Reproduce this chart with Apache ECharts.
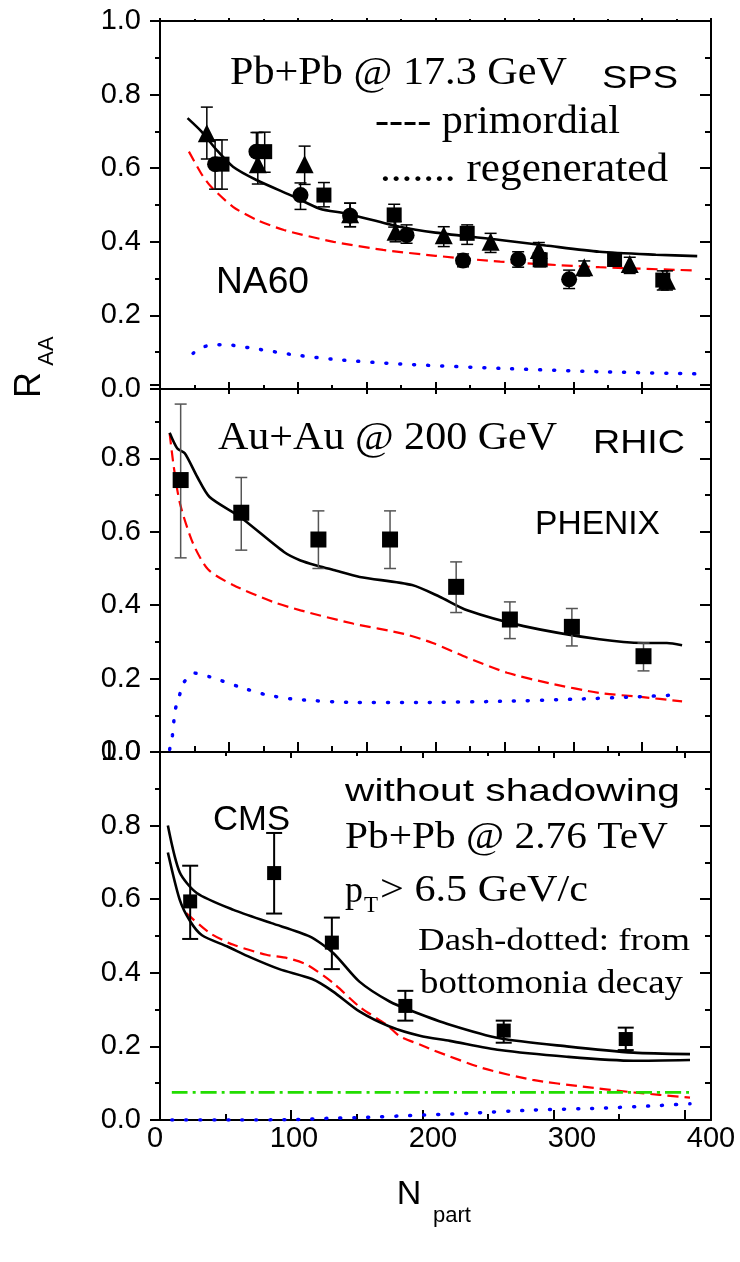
<!DOCTYPE html>
<html>
<head>
<meta charset="utf-8">
<script src="https://cdn.jsdelivr.net/npm/echarts@6/dist/echarts.min.js"></script>
<style>
  html, body { margin: 0; padding: 0; background: #fff; }
  #chart { width: 740px; height: 1262px; }
</style>
</head>
<body>
<div id="chart"></div>
<script>
// ---- panel 1: SPS, Pb+Pb @ 17.3 GeV ----
const spsTotal = [[20,0.736],[30,0.70],[41,0.65],[53,0.604],[70,0.568],[97,0.523],[116,0.49],[135,0.477],[174,0.441],[200,0.425],[247,0.405],[280,0.39],[319,0.373],[360,0.365],[390,0.361]];
const spsPrim = [[21,0.645],[30,0.585],[37,0.55],[53,0.495],[70,0.46],[90,0.432],[126,0.40],[162,0.378],[200,0.362],[247,0.346],[319,0.331],[390,0.322]];
const spsRegen = [[24,0.097],[30,0.112],[38,0.12],[48,0.12],[68,0.11],[99,0.092],[131,0.079],[174,0.068],[247,0.056],[319,0.047],[390,0.041]];
// NA60 points: [Npart, R, low, high]
const na60Tri = [[34,0.695,0.625,0.766],[71,0.611,0.557,0.697],[105,0.611,0.556,0.66],[138,0.475,0.441,0.505],[171,0.427,0.40,0.455],[206,0.418,0.387,0.441],[240,0.40,0.371,0.423],[275,0.378,0.35,0.398],[308,0.331,0.307,0.348],[341,0.34,0.314,0.358],[368,0.294,0.269,0.321]];
const na60Circ = [[40,0.611,0.543,0.677],[70,0.645,0.59,0.697],[102,0.527,0.488,0.56],[138,0.471,0.441,0.505],[179,0.418,0.396,0.446],[220,0.349,0.332,0.367],[260,0.352,0.331,0.373],[297,0.298,0.273,0.323]];
const na60Sq = [[45,0.611,0.543,0.677],[76,0.645,0.589,0.698],[119,0.527,0.495,0.561],[170,0.473,0.44,0.502],[223,0.423,0.393,0.446],[276,0.351,0.332,0.37],[330,0.352,0.334,0.367],[365,0.296,0.269,0.321]];

// ---- panel 2: RHIC, Au+Au @ 200 GeV ----
const rhicTotal = [[7,0.87],[12.6,0.827],[18,0.814],[27,0.75],[36,0.695],[58,0.641],[90,0.545],[102,0.522],[115,0.507],[126,0.496],[145,0.477],[183,0.455],[203,0.423],[223,0.386],[264,0.343],[319,0.307],[351,0.297],[368,0.297],[379,0.291]];
const rhicPrim = [[7,0.868],[10,0.777],[14.5,0.677],[24,0.568],[35,0.497],[53,0.455],[82,0.409],[102,0.386],[140,0.35],[177,0.322],[198,0.297],[223,0.257],[252,0.216],[283,0.187],[319,0.161],[349,0.15],[379,0.138]];
const rhicRegen = [[7,0.007],[9,0.045],[11,0.114],[14,0.152],[17,0.188],[25,0.215],[36,0.205],[58,0.177],[78,0.155],[100,0.143],[143,0.135],[186,0.135],[247,0.138],[302,0.144],[344,0.15],[378,0.156]];
const phenix = [[15,0.741,0.529,0.948],[59,0.652,0.55,0.748],[115,0.579,0.50,0.657],[167,0.579,0.50,0.657],[215,0.45,0.38,0.518],[254,0.361,0.309,0.409],[299,0.341,0.289,0.391],[351,0.261,0.221,0.297]];

// ---- panel 3: LHC, Pb+Pb @ 2.76 TeV ----
const cmsUpper = [[6,0.80],[15,0.673],[28,0.617],[56,0.571],[85,0.535],[114,0.499],[132,0.454],[152,0.376],[175,0.322],[193,0.295],[221,0.259],[259,0.222],[310,0.20],[361,0.183],[404,0.179]];
const cmsLower = [[6,0.727],[15,0.599],[23,0.54],[32,0.502],[51,0.472],[69,0.442],[91,0.41],[116,0.383],[132,0.349],[152,0.295],[175,0.254],[198,0.229],[221,0.215],[259,0.19],[310,0.172],[361,0.161],[404,0.163]];
const cmsPrim = [[20,0.562],[38,0.508],[56,0.476],[81,0.449],[97,0.44],[112,0.422],[132,0.372],[152,0.308],[173,0.258],[183,0.227],[198,0.205],[208,0.19],[246,0.141],[284,0.109],[322,0.091],[361,0.075],[404,0.061]];
const cmsRegen = [[9,0],[60,0],[100,0.001],[132,0.005],[157,0.007],[190,0.012],[234,0.018],[284,0.027],[335,0.032],[373,0.038],[404,0.044]];
const cmsBottomonia = [[9,0.075],[404,0.075]];
const cms = [[23,0.594,0.492,0.691],[87,0.671,0.561,0.78],[131,0.482,0.41,0.55],[187,0.31,0.27,0.351],[262,0.243,0.21,0.27],[355,0.22,0.19,0.251]];

const xTicks = [0, 100, 200, 300, 400];

const SANS = '"Liberation Sans", Arial, sans-serif';
const SERIF = '"Liberation Serif", "Times New Roman", serif';
const black = { color: '#000', width: 2 };

const chart = echarts.init(document.getElementById('chart'));

// fit a text between x1 and x2 (the source figure is stretched sideways)
const ctx = document.createElement('canvas').getContext('2d');
function fit(text, x1, x2, cy, size, family) {
  const font = size + 'px ' + family;
  ctx.font = font;
  const w = ctx.measureText(text).width;
  return {
    type: 'text', x: x1, y: cy, scaleX: (x2 - x1) / w, z: 10,
    style: { text, font, fill: '#000', textAlign: 'left', textVerticalAlign: 'middle', verticalAlign: 'middle' }
  };
}
function txt(text, x, y, size, family, rot) {
  return {
    type: 'text', x, y, rotation: rot || 0, z: 10,
    style: { text, font: size + 'px ' + family, fill: '#000', textAlign: 'center', textVerticalAlign: 'middle', verticalAlign: 'middle' }
  };
}

function xPair(g, max, interval, botLen, topLen, topOut, topLine) {
  return [
    { type: 'value', gridIndex: g, position: 'bottom', min: 0, max, interval,
      axisLine: { show: true, onZero: false, lineStyle: black },
      axisTick: { show: true, inside: true, length: botLen, lineStyle: black },
      minorTick: { show: true, splitNumber: 2, length: Math.round(botLen * 0.6), lineStyle: black },
      axisLabel: { show: false }, splitLine: { show: false }, minorSplitLine: { show: false } },
    { type: 'value', gridIndex: g, position: 'top', min: 0, max, interval,
      axisLine: { show: topLine, onZero: false, lineStyle: black },
      axisTick: { show: topLen > 0, inside: !topOut, length: topLen, lineStyle: black },
      minorTick: { show: topLen > 0, splitNumber: 2, length: Math.max(2, Math.round(topLen * 0.6)), lineStyle: black },
      axisLabel: { show: false }, splitLine: { show: false }, minorSplitLine: { show: false } }
  ];
}
function yPair(g, showMin, showMax) {
  return [
    { type: 'value', gridIndex: g, position: 'left', min: 0, max: 1, interval: 0.2,
      axisLine: { show: true, onZero: false, lineStyle: black },
      axisTick: { show: true, inside: false, length: 10, lineStyle: black },
      minorTick: { show: true, splitNumber: 2, length: 5, lineStyle: black },
      axisLabel: { show: true, fontSize: 29, fontFamily: SANS, color: '#000', margin: 19,
        showMinLabel: showMin, showMaxLabel: showMax, formatter: v => v.toFixed(1) },
      splitLine: { show: false } },
    { type: 'value', gridIndex: g, position: 'right', min: 0, max: 1, interval: 0.2,
      axisLine: { show: true, onZero: false, lineStyle: black },
      axisTick: { show: true, inside: true, length: 11, lineStyle: black },
      minorTick: { show: true, splitNumber: 2, length: 6, lineStyle: black },
      axisLabel: { show: false }, splitLine: { show: false } }
  ];
}

const styles = {
  total: { color: '#000', width: 2.6, type: 'solid' },
  prim: { color: '#ff0000', width: 2.2, type: [11, 6] },
  regen: { color: '#0000ff', width: 3.5, type: [1, 13], cap: 'round' },
  bott: { color: '#22dd00', width: 2.6, type: [16, 5, 3, 5] }
};
function curve(p, data, kind) {
  return { type: 'line', xAxisIndex: 2 * p, yAxisIndex: 2 * p, data, symbol: 'none',
    smooth: 0.25, lineStyle: styles[kind], z: 3, silent: true };
}
function marks(p, pts, symbol, size) {
  return { type: 'scatter', xAxisIndex: 2 * p, yAxisIndex: 2 * p, data: pts.map(d => [d[0], d[1]]),
    symbol, symbolSize: size, itemStyle: { color: '#000', opacity: 1 }, z: 6, silent: true };
}
function errs(p, pts, color, w, cap) {
  return {
    type: 'custom', xAxisIndex: 2 * p, yAxisIndex: 2 * p, z: 5, silent: true,
    data: pts.map(d => [d[0], d[2], d[3]]),
    renderItem: (params, api) => {
      const hi = api.coord([api.value(0), api.value(2)]);
      const lo = api.coord([api.value(0), api.value(1)]);
      const st = { stroke: color, lineWidth: w };
      return { type: 'group', children: [
        { type: 'line', shape: { x1: hi[0], y1: hi[1], x2: lo[0], y2: lo[1] }, style: st },
        { type: 'line', shape: { x1: hi[0] - cap, y1: hi[1], x2: hi[0] + cap, y2: hi[1] }, style: st },
        { type: 'line', shape: { x1: lo[0] - cap, y1: lo[1], x2: lo[0] + cap, y2: lo[1] }, style: st }
      ] };
    }
  };
}

const option = {
  animation: false,
  backgroundColor: '#fff',
  grid: [
    { left: 160, top: 21, width: 551, height: 368 },
    { left: 160, top: 385, width: 551, height: 367 },
    { left: 160, top: 752, width: 551, height: 368 },
    { left: 155, top: 1119, width: 556, height: 1 }
  ],
  xAxis: [
    ...xPair(0, 400, 50, 7, 3, true, true),
    ...xPair(1, 400, 50, 10, 9, false, false),
    ...xPair(2, 420, 100, 10, 6, false, true),
    { type: 'value', gridIndex: 3, min: 0, max: 400, interval: 100,
      axisLine: { show: false }, axisTick: { show: false }, splitLine: { show: false },
      axisLabel: { show: true, fontSize: 29, fontFamily: SANS, color: '#000', margin: 4,
        formatter: v => xTicks.includes(v) ? String(v) : '' } }
  ],
  yAxis: [
    ...yPair(0, true, true),
    ...yPair(1, true, false),
    ...yPair(2, true, true),
    { type: 'value', gridIndex: 3, show: false, min: 0, max: 1 }
  ],
  series: [
    curve(0, spsPrim, 'prim'), curve(0, spsRegen, 'regen'), curve(0, spsTotal, 'total'),
    errs(0, na60Tri, '#000', 1.5, 6), errs(0, na60Circ, '#000', 1.5, 6), errs(0, na60Sq, '#000', 1.5, 6),
    marks(0, na60Circ, 'circle', 16), marks(0, na60Sq, 'rect', 15), marks(0, na60Tri, 'triangle', 18),

    curve(1, rhicPrim, 'prim'), curve(1, rhicRegen, 'regen'), curve(1, rhicTotal, 'total'),
    errs(1, phenix, '#555', 1.5, 6), marks(1, phenix, 'rect', 16),

    curve(2, cmsPrim, 'prim'), curve(2, cmsRegen, 'regen'), curve(2, cmsBottomonia, 'bott'),
    curve(2, cmsUpper, 'total'), curve(2, cmsLower, 'total'),
    errs(2, cms, '#000', 2, 8), marks(2, cms, 'rect', 14)
  ],
  graphic: [
    fit('Pb+Pb @ 17.3 GeV', 230, 567, 73, 41, SERIF),
    fit('---- primordial', 375, 620, 122, 41, SERIF),
    fit('....... regenerated', 380, 668, 170, 41, SERIF),
    fit('SPS', 602, 678, 79, 32, SANS),
    fit('NA60', 216, 309, 283, 36, SANS),

    fit('Au+Au @ 200 GeV', 218, 557, 438, 41, SERIF),
    fit('RHIC', 593, 685, 444, 34, SANS),
    fit('PHENIX', 535, 660, 525, 34, SANS),

    fit('CMS', 213, 290, 820, 35, SANS),
    fit('without shadowing', 345, 680, 792, 32, SANS),
    fit('Pb+Pb @ 2.76 TeV', 345, 668, 838, 37, SERIF),
    fit('p', 345, 363, 892, 37, SERIF),
    fit('T', 364, 378, 906, 24, SERIF),
    fit('> 6.5 GeV/c', 380, 588, 891, 37, SERIF),
    fit('Dash-dotted: from', 418, 690, 942, 32, SERIF),
    fit('bottomonia decay', 420, 683, 984, 33, SERIF),

    txt('R', 30, 385, 36, SANS, Math.PI / 2),
    txt('AA', 47, 351, 22, SANS, Math.PI / 2),
    txt('N', 409, 1195, 34, SANS),
    txt('part', 452, 1216, 22, SANS)
  ]
};
chart.setOption(option);
</script>
</body>
</html>
